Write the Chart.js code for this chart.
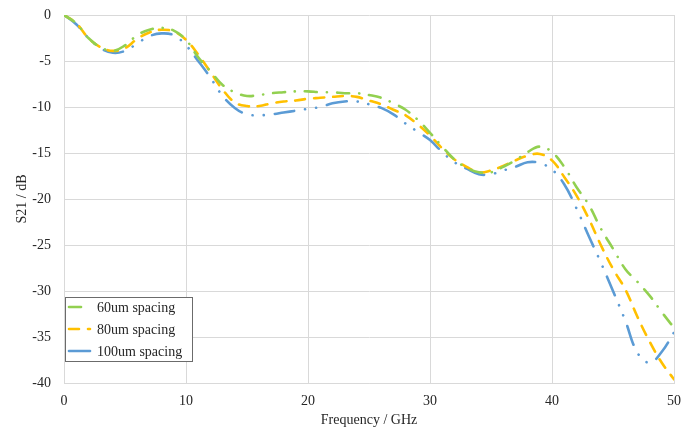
<!DOCTYPE html>
<html>
<head>
<meta charset="utf-8">
<script src="https://cdn.jsdelivr.net/npm/chart.js@4/dist/chart.umd.min.js"></script>
<style>
  html, body { margin: 0; padding: 0; background: #fff; }
  #wrap { width: 682px; height: 427px; }
</style>
</head>
<body>
<div id="wrap"><canvas id="s21Chart" width="682" height="427"></canvas></div>
<script>
var freq = [];
for (var f = 0; f <= 50; f++) freq.push(f);

var spacing60 = [0, -0.9, -2.5, -3.5, -3.9, -3.3, -2.2, -1.6, -1.4, -1.7, -2.7,
  -4.6, -6.1, -7.6, -8.4, -8.8, -8.7, -8.5, -8.4, -8.3, -8.3,
  -8.4, -8.4, -8.5, -8.5, -8.7, -9.0, -9.6, -10.3, -11.4, -12.8,
  -14.3, -15.7, -16.6, -17.1, -17.1, -16.5, -15.8, -14.9, -14.3, -14.9,
  -16.5, -18.7, -20.6, -23.2, -25.4, -27.6, -29.0, -30.5, -32.3, -34.0];

var spacing80 = [0, -0.9, -2.5, -3.5, -3.9, -3.6, -2.6, -1.9, -1.6, -1.8, -2.7,
  -4.3, -6.2, -8.1, -9.5, -9.9, -9.9, -9.6, -9.4, -9.3, -9.1,
  -9.0, -8.9, -8.8, -8.9, -9.3, -9.7, -10.3, -10.9, -11.9, -13.1,
  -14.5, -15.7, -16.5, -17.1, -16.9, -16.4, -15.8, -15.3, -15.1, -15.8,
  -17.6, -19.6, -22.1, -25.0, -27.6, -29.8, -32.8, -35.5, -37.8, -39.6];

var spacing100 = [0, -1.0, -2.5, -3.6, -4.1, -3.9, -3.1, -2.3, -2.0, -2.2, -3.3,
  -5.0, -6.8, -8.8, -10.1, -10.8, -10.9, -10.8, -10.6, -10.4, -10.2,
  -10.0, -9.6, -9.4, -9.4, -9.7, -10.1, -10.8, -11.8, -12.7, -13.6,
  -14.9, -16.0, -16.7, -17.3, -17.3, -16.9, -16.5, -16.0, -16.1, -16.8,
  -18.4, -21.0, -24.0, -26.9, -30.0, -33.2, -36.7, -37.8, -36.6, -34.5];

var seriesNames = ['60um spacing', '80um spacing', '100um spacing'];

function toPoints(values) {
  return values.map(function (v, i) { return { x: freq[i], y: v }; });
}

function buildDataset(data, color, label, dash) {
  return {
    label: label,
    data: toPoints(data),
    borderColor: color,
    backgroundColor: 'transparent',
    borderWidth: 2.6,
    borderDash: dash,
    borderCapStyle: 'round',
    pointRadius: 0,
    tension: 0.4,
    fill: false
  };
}

var serif = "'Liberation Serif', 'DejaVu Serif', serif";

// legend box in the lower left corner of the plot
var legendBox = {
  id: 'legendBox',
  afterDraw: function (chart) {
    var ctx = chart.ctx;
    var x0 = 65, y0 = 297, w = 127, h = 64;
    ctx.save();
    ctx.fillStyle = '#fff';
    ctx.fillRect(x0, y0, w, h);
    ctx.strokeStyle = '#6b6b6b';
    ctx.lineWidth = 1;
    ctx.strokeRect(x0 + 0.5, y0 + 0.5, w, h);
    var rows = [307, 329, 351];
    chart.data.datasets.forEach(function (ds, i) {
      ctx.beginPath();
      ctx.strokeStyle = ds.borderColor;
      ctx.lineWidth = ds.borderWidth;
      ctx.lineCap = 'round';
      ctx.setLineDash(i === 2 ? [] : ds.borderDash);
      ctx.moveTo(69, rows[i]);
      ctx.lineTo(90, rows[i]);
      ctx.stroke();
      ctx.setLineDash([]);
      ctx.fillStyle = '#262626';
      ctx.font = '14px ' + serif;
      ctx.textBaseline = 'middle';
      ctx.fillText(ds.label, 97, rows[i] + 1);
    });
    ctx.restore();
  }
};

new Chart(document.getElementById('s21Chart').getContext('2d'), {
  type: 'line',
  data: {
    datasets: [
      buildDataset(spacing60, '#92d050', seriesNames[0], [12, 10, 0.1, 10]),
      buildDataset(spacing80, '#ffc000', seriesNames[1], [10, 9]),
      buildDataset(spacing100, '#5b9bd5', seriesNames[2], [20, 11, 0.1, 11, 0.1, 11])
    ]
  },
  options: {
    responsive: false,
    animation: false,
    layout: { padding: { top: 15, right: 8, left: 0, bottom: 0 } },
    plugins: {
      legend: { display: false },
      tooltip: { enabled: false }
    },
    scales: {
      x: {
        type: 'linear',
        min: 0,
        max: 50,
        ticks: { stepSize: 10, padding: 10, color: '#262626', font: { family: serif, size: 14 } },
        grid: { color: '#d9d9d9', drawTicks: false },
        border: { color: '#d9d9d9' },
        title: { display: true, text: 'Frequency / GHz', color: '#262626',
                 font: { family: serif, size: 14, lineHeight: 1 }, padding: { top: 0, bottom: 0 } },
        afterFit: function (scale) {
          scale.height = 44;
          scale.paddingLeft = 0;
          scale.paddingRight = 0;
        }
      },
      y: {
        min: -40,
        max: 0,
        ticks: { stepSize: 5, padding: 13, color: '#262626', font: { family: serif, size: 14 } },
        grid: { color: '#d9d9d9', drawTicks: false },
        border: { color: '#d9d9d9' },
        title: { display: true, text: 'S21 / dB', color: '#262626',
                 font: { family: serif, size: 14 }, padding: { top: 14, bottom: 0 } },
        afterFit: function (scale) {
          scale.width = 64;
          scale.paddingTop = 0;
          scale.paddingBottom = 0;
        }
      }
    }
  },
  plugins: [legendBox]
});
</script>
</body>
</html>
